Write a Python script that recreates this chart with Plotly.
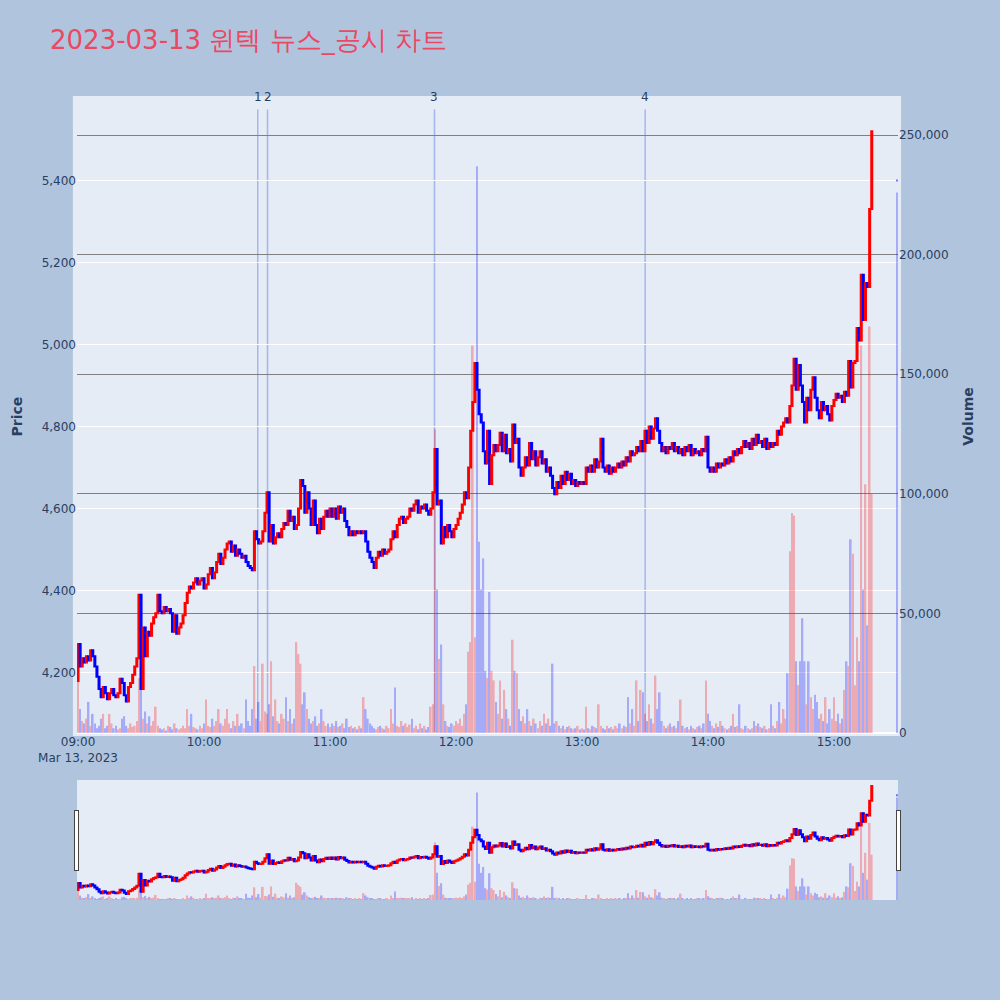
import pandas as pd
import plotly.graph_objects as go

trade_date = "2023-03-13"
session_start = "2023-03-13 09:00"
first_open = 4180

# per-minute closing prices 09:00 .. 15:18
close_prices = [
    4270, 4215, 4235, 4225, 4240, 4230, 4255, 4240, 4215, 4190,
    4160, 4140, 4165, 4150, 4135, 4150, 4160, 4145, 4140, 4150,
    4185, 4175, 4145, 4130, 4165, 4175, 4195, 4215, 4235, 4390,
    4160, 4310, 4240, 4300, 4290, 4320, 4335, 4345, 4390, 4350,
    4345, 4360, 4350, 4355, 4345, 4300, 4340, 4295, 4310, 4320,
    4340, 4370, 4395, 4410, 4405, 4420, 4430, 4415, 4425, 4430,
    4405, 4415, 4440, 4455, 4430, 4445, 4470, 4490, 4465, 4480,
    4500, 4515, 4520, 4495, 4510, 4485, 4500, 4490, 4480, 4485,
    4470, 4460, 4455, 4450, 4545, 4525, 4515, 4520, 4545, 4590,
    4640, 4520, 4560, 4515, 4530, 4540, 4530, 4550, 4565, 4560,
    4595, 4570, 4580, 4550, 4560, 4600, 4670, 4655, 4590, 4640,
    4600, 4560, 4620, 4560, 4540, 4575, 4550, 4580, 4595, 4580,
    4600, 4580, 4600, 4575, 4605, 4590, 4600, 4570, 4555, 4535,
    4545, 4535, 4545, 4540, 4545, 4540, 4545, 4520, 4495, 4480,
    4470, 4455, 4480, 4495, 4485, 4500, 4490, 4495, 4500, 4525,
    4545, 4530, 4560, 4575, 4580, 4565, 4575, 4580, 4600, 4595,
    4610, 4620, 4590, 4605, 4600, 4610, 4595, 4585, 4600, 4640,
    4745, 4610, 4620, 4515, 4555, 4530, 4560, 4545, 4530, 4550,
    4560, 4575, 4590, 4610, 4640, 4625, 4700, 4790, 4860, 4955,
    4890, 4830, 4810, 4740, 4710, 4790, 4660, 4730, 4755, 4740,
    4755, 4785, 4740, 4780, 4735, 4745, 4715, 4805, 4760, 4770,
    4700, 4680, 4700, 4725, 4705, 4760, 4720, 4740, 4705, 4725,
    4740, 4710, 4720, 4690, 4700, 4680, 4650, 4635, 4665, 4650,
    4680, 4660, 4690, 4670, 4685, 4660, 4670, 4655, 4665, 4660,
    4665, 4660, 4700, 4690, 4705, 4690, 4720, 4700, 4715, 4770,
    4700, 4690, 4705, 4685, 4700, 4690, 4700, 4710, 4700, 4715,
    4705, 4725, 4715, 4740, 4730, 4735, 4750, 4740, 4765, 4740,
    4790, 4760, 4800, 4770, 4795, 4820, 4790, 4760, 4740, 4750,
    4735, 4750, 4745, 4760, 4740, 4750, 4735, 4745, 4730, 4750,
    4740, 4755, 4730, 4745, 4735, 4740, 4730, 4745, 4740, 4775,
    4700, 4690, 4700, 4690, 4710, 4700, 4710, 4705, 4720, 4710,
    4725, 4715, 4740, 4730, 4745, 4735, 4750, 4765, 4750, 4760,
    4745, 4770, 4755, 4780, 4760, 4765, 4750, 4770, 4745, 4760,
    4750, 4760, 4755, 4790, 4780, 4800, 4810, 4820, 4810, 4850,
    4900, 4965, 4890, 4950, 4900, 4860, 4810, 4870, 4840, 4890,
    4920, 4870, 4840, 4820, 4860, 4840, 4850, 4830, 4815, 4850,
    4865, 4880, 4870, 4875, 4860, 4885, 4875, 4960, 4895, 4955,
    4960, 5040, 5010, 5170, 5060, 5150, 5140, 5330, 5520,
]

# per-minute traded volume 09:00 .. 15:18
volumes = [
    22000, 10000, 5000, 4000, 6000, 13000, 3000, 8000, 4000, 2000,
    3000, 6000, 8000, 2000, 3000, 8000, 4000, 2000, 3000, 1500,
    2000, 6000, 7000, 3000, 2000, 4000, 2500, 3000, 5000, 23000,
    22000, 6000, 9000, 4000, 7000, 3000, 5000, 11000, 3000, 2000,
    1500, 2000, 1000, 3000, 2500, 1500, 4000, 2000, 1500, 2000,
    3000, 2000, 10000, 3000, 8000, 2500, 2000, 1500, 3000, 2000,
    4000, 14000, 3000, 2500, 6000, 3000, 5000, 10000, 4000, 3000,
    6000, 10000, 4000, 2000, 5000, 3000, 8000, 3000, 4000, 2000,
    14000, 5000, 3000, 10000, 28000, 6000, 13000, 5000, 29000, 9000,
    8000, 12000, 30000, 7000, 14000, 5000, 4000, 8000, 6000, 15000,
    5000, 10000, 4000, 6000, 38000, 33000, 29000, 12000, 17000, 10000,
    6000, 4000, 5000, 7000, 3000, 4000, 10000, 5000, 3000, 4000,
    2500, 4000, 3000, 5000, 2500, 3000, 4000, 2000, 6000, 2500,
    3000, 2000, 2500, 1500, 3000, 2000, 15000, 10000, 6000, 4000,
    3000, 2000, 1500, 2500, 3000, 2000, 1500, 3000, 2000, 10000,
    4000, 19000, 3000, 2500, 5000, 3000, 4000, 2500, 3500, 6000,
    2000, 3000, 1500, 4000, 2000, 3000, 1500, 2500, 11000, 12000,
    127000, 60000, 31000, 37000, 12000, 5000, 3000, 2500, 4000, 3000,
    5000, 4000, 6000, 3000, 8000, 12000, 34000, 38000, 162000, 40000,
    237000, 80000, 60000, 73000, 26000, 23000, 59000, 26000, 22000, 13000,
    8000, 22000, 6000, 18000, 10000, 6000, 3000, 39000, 26000, 25000,
    10000, 5000, 7000, 4000, 10000, 5000, 3000, 6000, 4000, 2000,
    5000, 3000, 8000, 4000, 6000, 3000, 29000, 4000, 5000, 3000,
    2000, 3000, 1500, 2500, 3000, 2000, 1500, 2000, 3000, 1500,
    2000, 1500, 11000, 2000, 1500, 3000, 2500, 2000, 12000, 3000,
    2000, 1500, 3000, 2000, 2500, 1500, 3000, 2000, 4000, 2000,
    3000, 2500, 15000, 4000, 10000, 3000, 22000, 5000, 18000, 17000,
    8000, 5000, 12000, 6000, 4000, 24000, 10000, 17000, 5000, 3000,
    2000, 3000, 4000, 2500, 3000, 2000, 5000, 14000, 3000, 2000,
    2500, 1500, 3000, 2000, 1500, 2500, 3000, 2000, 4000, 22000,
    8000, 5000, 3000, 2000, 4000, 2500, 5000, 3000, 2000, 1500,
    2000, 3000, 8000, 2500, 3000, 12000, 2000, 1500, 3000, 2000,
    1500, 2000, 5000, 3000, 4000, 2500, 2000, 3000, 1500, 2000,
    12000, 3000, 2000, 5000, 13000, 4000, 10000, 6000, 25000, 76000,
    92000, 91000, 30000, 20000, 30000, 48000, 30000, 12000, 30000, 15000,
    10000, 16000, 13000, 6000, 8000, 5000, 15000, 4000, 10000, 6000,
    15000, 5000, 8000, 4000, 6000, 18000, 30000, 28000, 81000, 75000,
    20000, 40000, 30000, 162000, 60000, 104000, 45000, 170000, 100000,
]

# closing single-price auction
auction_time = "2023-03-13 15:30"
auction_price = 5400
auction_volume = 226000

# news / disclosure markers
news_times = ["2023-03-13 10:25:35", "2023-03-13 10:30:15",
              "2023-03-13 11:49:45", "2023-03-13 13:30:05"]
news_labels = ["1", "2", "3", "4"]

price_range = [4053, 5596]
volume_range = [0, 264700]

# ---- build OHLC ----
times = list(pd.date_range(session_start, periods=len(close_prices), freq="min"))
opens = [first_open] + close_prices[:-1]
closes = list(close_prices)
times.append(pd.Timestamp(auction_time))
opens.append(auction_price)
closes.append(auction_price)
highs = [max(o, c) for o, c in zip(opens, closes)]
lows = [min(o, c) for o, c in zip(opens, closes)]
vols = list(volumes) + [auction_volume]

colors = []
prev = None
for o, c in zip(opens, closes):
    up = c > o or (c == o and prev is not None and c > prev)
    colors.append("red" if up else "blue")
    prev = c

fig = go.Figure()
fig.add_trace(go.Bar(
    x=times, y=vols, marker=dict(color=colors, line=dict(width=0)),
    opacity=0.27, yaxis="y", name="Volume", showlegend=False,
))
fig.add_trace(go.Candlestick(
    x=times, open=opens, high=highs, low=lows, close=closes,
    increasing=dict(line=dict(color="red", width=2), fillcolor="red"),
    decreasing=dict(line=dict(color="blue", width=2), fillcolor="blue"),
    yaxis="y2", name="Price", showlegend=False,
))

shapes = [dict(type="rect", xref="paper", yref="paper",
               x0=-0.005, x1=1.0037, y0=-0.0047, y1=1.0064,
               fillcolor="#E5ECF6", line=dict(width=0), layer="below")]
annotations = []
for t, lab in zip(news_times, news_labels):
    shapes.append(dict(type="line", xref="x", yref="paper", x0=t, x1=t,
                       y0=0, y1=0.985, layer="below",
                       line=dict(color="rgba(65,105,225,0.4)", width=1.5)))
    annotations.append(dict(x=t, y=1.0, xref="x", yref="paper", text=lab,
                            showarrow=False, yanchor="middle", yshift=3,
                            font=dict(size=12, color="#2a3f5f")))

fig.update_layout(
    width=1000, height=1000,
    font=dict(family="DejaVu Sans"),
    paper_bgcolor="#B0C4DE",
    plot_bgcolor="#E5ECF6",
    margin=dict(l=77, r=102, t=100, b=100),
    title=dict(text="2023-03-13 윈텍 뉴스_공시 차트", x=0.05, xanchor="left",
               y=0.96, yanchor="middle",
               font=dict(size=26, color="rgb(235,72,98)")),
    showlegend=False,
    bargap=0.2,
    shapes=shapes,
    annotations=annotations,
    xaxis=dict(type="date", showgrid=False,
               rangeslider=dict(visible=True, bgcolor="#E5ECF6",
                                yaxis=dict(rangemode="match"))),
    yaxis=dict(title=dict(text="<b>Volume</b>"), side="right", range=volume_range,
               tickformat=",", gridcolor="gray", zerolinecolor="white",
               zerolinewidth=2),
    yaxis2=dict(title=dict(text="<b>Price</b>"), side="left", overlaying="y",
                range=price_range, tickformat=",", gridcolor="white",
                showgrid=True),
)

fig.write_html("out.html", config={"displayModeBar": False},
               post_script="document.body.style.margin='0';")
